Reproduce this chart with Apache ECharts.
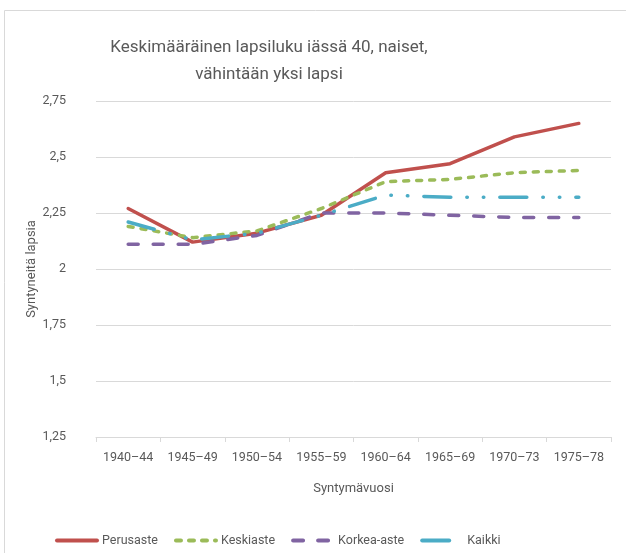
<!DOCTYPE html>
<html>
<head>
<meta charset="utf-8">
<script src="https://cdn.jsdelivr.net/npm/echarts@6/dist/echarts.min.js"></script>
<style>
  html, body { margin: 0; padding: 0; background: #fff; }
  #chart { width: 626px; height: 553px; }
</style>
</head>
<body>
<div id="chart"></div>
<script>
// syntymävuosiryhmät
var categories = ["1940\u201344", "1945\u201349", "1950\u201354", "1955\u201359", "1960\u201364", "1965\u201369", "1970\u201373", "1975\u201378"];
// keskimääräinen lapsiluku, arvot luettu kuvasta
var perusaste = [2.27, 2.12, 2.16, 2.24, 2.43, 2.47, 2.59, 2.65];
var keskiaste = [2.19, 2.14, 2.17, 2.27, 2.39, 2.40, 2.43, 2.44];
var korkeaAste = [2.11, 2.11, 2.15, 2.25, 2.25, 2.24, 2.23, 2.23];
var kaikki = [2.21, 2.13, 2.16, 2.24, 2.33, 2.32, 2.32, 2.32];

var txt = "#595959";
var font = "Roboto";

var chart = echarts.init(document.getElementById("chart"));

function lineSeries(name, data, color, type) {
  return {
    name: name,
    type: "line",
    data: data,
    symbol: "none",
    lineStyle: { color: color, width: 3.5, type: type, cap: "round", join: "round" },
    itemStyle: { color: color }
  };
}

chart.setOption({
  animation: false,
  textStyle: { fontFamily: font },
  graphic: [
    {
      // kaavion reunaviiva
      type: "rect",
      shape: { x: 4.5, y: 10.5, width: 640, height: 560 },
      style: { fill: "none", stroke: "#d9d9d9", lineWidth: 1 },
      silent: true
    }
  ],
  title: {
    text: "Keskimääräinen lapsiluku iässä 40, naiset,\nvähintään yksi lapsi",
    left: 264,
    top: 29,
    textAlign: "center",
    textStyle: { color: txt, fontSize: 17, fontWeight: "normal", fontFamily: font, lineHeight: 27 }
  },
  legend: {
    left: 50,
    top: 529,
    itemWidth: 40,
    itemHeight: 10,
    itemGap: 16,
    itemStyle: { opacity: 0 },
    lineStyle: { width: 4 },
    textStyle: { color: txt, fontSize: 12.5, fontFamily: font },
    data: ["Perusaste", "Keskiaste", "Korkea-aste", "Kaikki"]
  },
  grid: { left: 96, right: 15, top: 101, bottom: 116, containLabel: false },
  xAxis: {
    type: "category",
    data: categories,
    boundaryGap: true,
    name: "Syntymävuosi",
    nameLocation: "middle",
    nameGap: 45,
    nameMoveOverlap: false,
    nameTextStyle: { color: txt, fontSize: 13, fontFamily: font },
    axisLine: { lineStyle: { color: "#d9d9d9", width: 1 } },
    axisTick: { show: true, length: 5, lineStyle: { color: "#d9d9d9" } },
    axisLabel: { color: txt, fontSize: 12.5, fontFamily: font, margin: 14, interval: 0 }
  },
  yAxis: {
    type: "value",
    min: 1.25,
    max: 2.75,
    interval: 0.25,
    name: "Syntyneitä lapsia",
    nameLocation: "middle",
    nameGap: 58,
    nameMoveOverlap: false,
    nameTextStyle: { color: txt, fontSize: 13, fontFamily: font },
    axisLine: { show: false },
    axisTick: { show: false },
    splitLine: { lineStyle: { color: "#d9d9d9", width: 1 } },
    axisLabel: {
      color: txt,
      fontSize: 12.5,
      fontFamily: font,
      margin: 30,
      formatter: function (v) { return String(+v.toFixed(2)).replace(".", ","); }
    }
  },
  series: [
    lineSeries("Perusaste", perusaste, "#C0504D", "solid"),
    lineSeries("Keskiaste", keskiaste, "#9BBB59", [5, 8]),
    lineSeries("Korkea-aste", korkeaAste, "#8064A2", [10, 15]),
    lineSeries("Kaikki", kaikki, "#4BACC6", [27, 16, 0.5, 16, 0.5, 16])
  ]
});
</script>
</body>
</html>
